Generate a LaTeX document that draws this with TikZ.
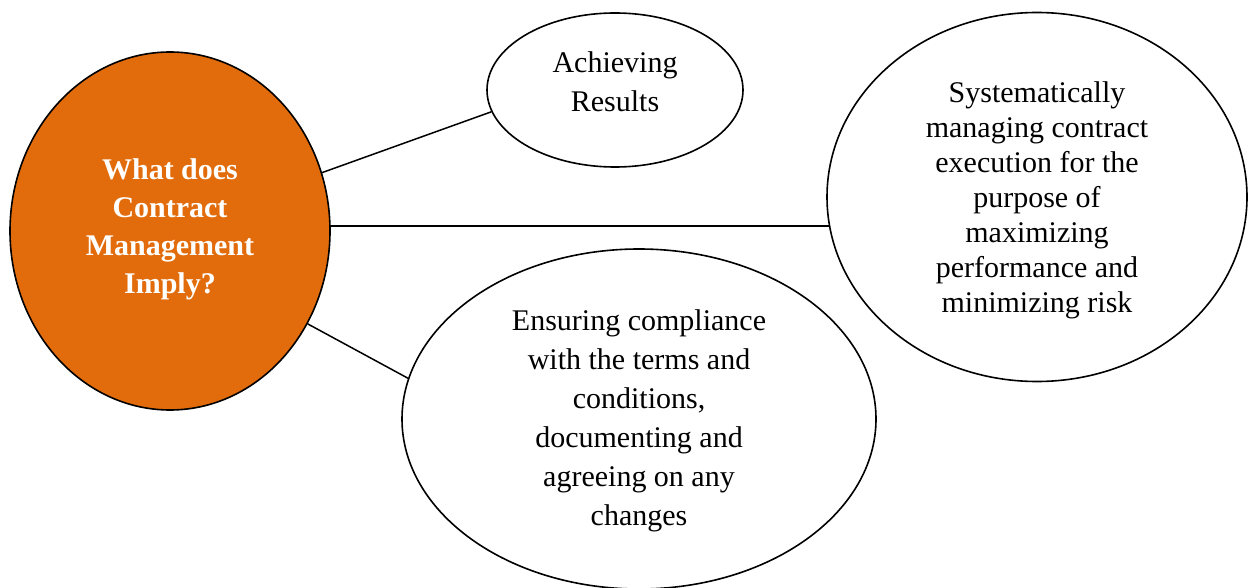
\documentclass[tikz,border=0pt]{standalone}
\usepackage{fontspec}
\setmainfont{Liberation Serif}
\usetikzlibrary{shapes.geometric,backgrounds}
\definecolor{cmorange}{HTML}{E26C0B}
\tikzset{
  bubble/.style={ellipse, draw=black, line width=1.6pt, inner sep=0pt},
  txt/.style={align=center, inner sep=0pt, font=\fontsize{30}{39}\selectfont},
  link/.style={draw=black, line width=1.5pt}
}
\begin{document}
\begin{tikzpicture}[x=1pt,y=-1pt]
\useasboundingbox (0,0) rectangle (1248,588);
\node[bubble, fill=cmorange, minimum width=320pt, minimum height=358pt] (o) at (170,231) {};
\node[bubble, fill=white, minimum width=256pt, minimum height=154pt] (a) at (615,90) {};
\node[bubble, fill=white, minimum width=420pt, minimum height=369pt] (r) at (1037,197) {};
\node[bubble, fill=white, minimum width=474pt, minimum height=340pt] (b) at (639,419) {};
\node[txt, text=white, font=\fontsize{30}{38}\selectfont\bfseries] (ot) at (170,229) {What does\\Contract\\Management\\Imply?};
\node[txt] (at) at (615,82) {Achieving\\Results};
\node[txt, font=\fontsize{30}{35}\selectfont] (rt) at (1037,200) {Systematically\\managing contract\\execution for the\\purpose of\\maximizing\\performance and\\minimizing risk};
\node[txt] (bt) at (639,421) {Ensuring compliance\\with the terms and\\conditions,\\documenting and\\agreeing on any\\changes};
\begin{scope}[on background layer]
\draw[link] (o.21.5) -- (a.190);
\draw[link] (o.center |- 0,226) -- (r.center |- 0,226);
\draw[link] (o.-34.2) -- (b.170.6);
\end{scope}
\end{tikzpicture}
\end{document}
